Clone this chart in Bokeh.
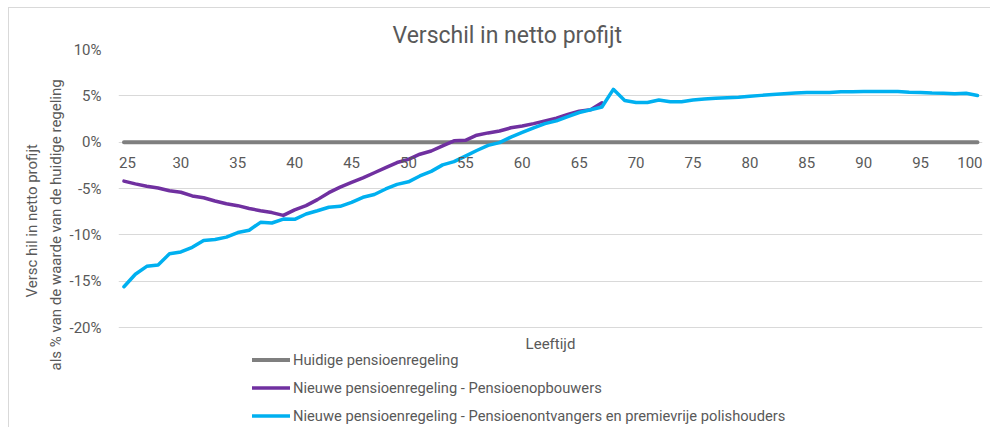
from bokeh.plotting import figure
from bokeh.models import Legend, LegendItem, Title, FixedTicker, ColumnDataSource, Label
from bokeh.embed import file_html
from bokeh.resources import INLINE
from bokeh.core.properties import value

# ---------------- data ----------------
ages = list(range(25, 101))
ages_opbouw = list(range(25, 68))

huidige = [0.0, 0.0, 0.0, 0.0, 0.0, 0.0, 0.0, 0.0, 0.0, 0.0,
           0.0, 0.0, 0.0, 0.0, 0.0, 0.0, 0.0, 0.0, 0.0, 0.0,
           0.0, 0.0, 0.0, 0.0, 0.0, 0.0, 0.0, 0.0, 0.0, 0.0,
           0.0, 0.0, 0.0, 0.0, 0.0, 0.0, 0.0, 0.0, 0.0, 0.0,
           0.0, 0.0, 0.0, 0.0, 0.0, 0.0, 0.0, 0.0, 0.0, 0.0,
           0.0, 0.0, 0.0, 0.0, 0.0, 0.0, 0.0, 0.0, 0.0, 0.0,
           0.0, 0.0, 0.0, 0.0, 0.0, 0.0, 0.0, 0.0, 0.0, 0.0,
           0.0, 0.0, 0.0, 0.0, 0.0, 0.0]

opbouwers = [-4.2, -4.5, -4.75, -4.95, -5.25, -5.4, -5.8, -6.0, -6.35, -6.65,   # 25-34
             -6.85, -7.15, -7.4, -7.6, -7.9, -7.3, -6.85, -6.2, -5.45, -4.85,  # 35-44
             -4.35, -3.85, -3.3, -2.75, -2.2, -1.85, -1.3, -0.95, -0.4, 0.15,  # 45-54
             0.2, 0.75, 1.0, 1.2, 1.55, 1.75, 2.0, 2.3, 2.6, 3.0,               # 55-64
             3.35, 3.5, 4.25]                                                   # 65-67

ontvangers = [-15.6, -14.25, -13.4, -13.25, -12.05, -11.85, -11.35, -10.6, -10.5, -10.25,  # 25-34
              -9.75, -9.5, -8.65, -8.72, -8.3, -8.33, -7.75, -7.4, -7.02, -6.92,          # 35-44
              -6.5, -5.95, -5.65, -5.05, -4.55, -4.28, -3.65, -3.15, -2.45, -2.1,         # 45-54
              -1.5, -0.9, -0.35, -0.05, 0.55, 1.05, 1.55, 2.0, 2.3, 2.75,                 # 55-64
              3.2, 3.5, 3.8, 5.7, 4.5, 4.28, 4.28, 4.55, 4.37, 4.37,                      # 65-74
              4.55, 4.66, 4.75, 4.79, 4.85, 4.95, 5.05, 5.15, 5.22, 5.3,                  # 75-84
              5.35, 5.36, 5.37, 5.43, 5.45, 5.46, 5.46, 5.46, 5.46, 5.38,                 # 85-94
              5.36, 5.3, 5.29, 5.22, 5.28, 5.03]                                          # 95-100

x_ticks = [25, 30, 35, 40, 45, 50, 55, 60, 65, 70, 75, 80, 85, 90, 95, 100]
x_tick_labels = ["25", "30", "35", "40", "45", "50", "55", "60", "65", "70",
                 "75", "80", "85", "90", "95", "100"]
x_tick_base = [0, 0, 0, 0, 0, 0, 0, 0, 0, 0, 0, 0, 0, 0, 0, 0]
y_ticks = [-20, -15, -10, -5, 0, 5, 10]
y_tick_labels = ["-20%", "-15%", "-10%", "-5%", "0%", "5%", "10%"]

series_names = ["Huidige pensioenregeling",
                "Nieuwe pensioenregeling - Pensioenopbouwers",
                "Nieuwe pensioenregeling - Pensioenontvangers en premievrije polishouders"]
title_text = "Verschil in netto profijt"
y_title_1 = "Versc hil in netto profijt"
y_title_2 = "als % van de waarde van de huidige regeling"
x_title = "Leeftijd"

# ---------------- styling ----------------
FONT = "Roboto"
TXT = "#595959"
GRID = "#d9d9d9"
C_GRAY = "#7f7f7f"
C_PURPLE = "#7030a0"
C_CYAN = "#00b0f0"

# The frame reaches down to the bottom of the chart so that the x title and the
# legend (which sit below the -20% gridline) are drawn inside it, unclipped.
p = figure(frame_width=864, frame_height=378,
           min_border_left=109, min_border_right=8,
           min_border_top=41, min_border_bottom=0,
           x_range=(24.52, 100.44), y_range=(-30.79, 10),
           output_backend="svg", toolbar_location=None,
           styles={"margin-left": "8px", "margin-top": "7px",
                   "border-left": "1px solid #d9d9d9", "border-top": "1px solid #d9d9d9"})

p.outline_line_color = None
p.background_fill_color = "white"
p.border_fill_color = "white"

# title (above)
p.title.text = title_text
p.title.align = "left"
p.title.offset = 274
p.title.standoff = 2
p.title.text_font = FONT
p.title.text_font_size = "23px"
p.title.text_font_style = "normal"
p.title.text_color = TXT

# grid
p.xgrid.visible = False
p.ygrid.ticker = FixedTicker(ticks=y_ticks)
p.ygrid.grid_line_color = GRID
p.ygrid.grid_line_width = 1

# y axis
p.yaxis.ticker = FixedTicker(ticks=y_ticks)
p.yaxis.major_label_overrides = {t: l for t, l in zip(y_ticks, y_tick_labels)}
p.yaxis.axis_line_color = None
p.yaxis.major_tick_line_color = None
p.yaxis.minor_tick_line_color = None
p.yaxis.major_tick_out = 0
p.yaxis.major_label_standoff = 17
p.yaxis.major_label_text_font = FONT
p.yaxis.major_label_text_font_size = "15px"
p.yaxis.major_label_text_color = TXT

# y axis titles (two lines, left side)
p.add_layout(Title(text=y_title_2, align="left", offset=57, standoff=4,
                   text_font=FONT, text_font_size="15px", text_font_style="normal",
                   text_color=TXT), "left")
p.add_layout(Title(text=y_title_1, align="left", offset=130, standoff=4,
                   text_font=FONT, text_font_size="15px", text_font_style="normal",
                   text_color=TXT), "left")

# x axis hidden (its title is drawn as a label under the plot area)
p.xaxis.visible = False

# lines
r_gray = p.line(ages, huidige, line_color=C_GRAY, line_width=4, line_cap="round")
r_purple = p.line(ages_opbouw, opbouwers, line_color=C_PURPLE, line_width=3.5,
                  line_join="round", line_cap="round")
r_cyan = p.line(ages, ontvangers, line_color=C_CYAN, line_width=3.5,
                line_join="round", line_cap="round")

# x tick labels sitting under the 0 line (end labels nudged inside the plot area)
tick_style = dict(y_offset=20, text_baseline="middle", text_font=value(FONT),
                  text_font_size="15px", text_color=TXT)
src_first = ColumnDataSource(dict(x=x_ticks[:1], y=x_tick_base[:1], t=x_tick_labels[:1]))
p.text(x="x", y="y", text="t", source=src_first, x_offset=-5, text_align="left", **tick_style)
src_mid = ColumnDataSource(dict(x=x_ticks[1:-1], y=x_tick_base[1:-1], t=x_tick_labels[1:-1]))
p.text(x="x", y="y", text="t", source=src_mid, text_align="center", **tick_style)
src_last = ColumnDataSource(dict(x=x_ticks[-1:], y=x_tick_base[-1:], t=x_tick_labels[-1:]))
p.text(x="x", y="y", text="t", source=src_last, x_offset=5, text_align="right", **tick_style)

# x title, centred under the plot area
p.add_layout(Label(x=(p.x_range.start + p.x_range.end) / 2, y=y_ticks[0], y_offset=-16,
                   text=x_title, text_align="center", text_baseline="middle",
                   text_font=FONT, text_font_size="15px", text_color=TXT))

# legend (inside the extended frame, below the -20% line)
legend = Legend(items=[LegendItem(label=series_names[0], renderers=[r_gray]),
                       LegendItem(label=series_names[1], renderers=[r_purple]),
                       LegendItem(label=series_names[2], renderers=[r_cyan])],
                location=(134, 1), orientation="vertical",
                label_text_font=FONT, label_text_font_size="14.7px", label_text_color=TXT,
                glyph_width=38, glyph_height=21, label_height=21, spacing=7,
                padding=0, margin=0, label_standoff=3,
                background_fill_alpha=0, border_line_color=None)
p.add_layout(legend)

open("out.html", "w").write(file_html(p, INLINE))
